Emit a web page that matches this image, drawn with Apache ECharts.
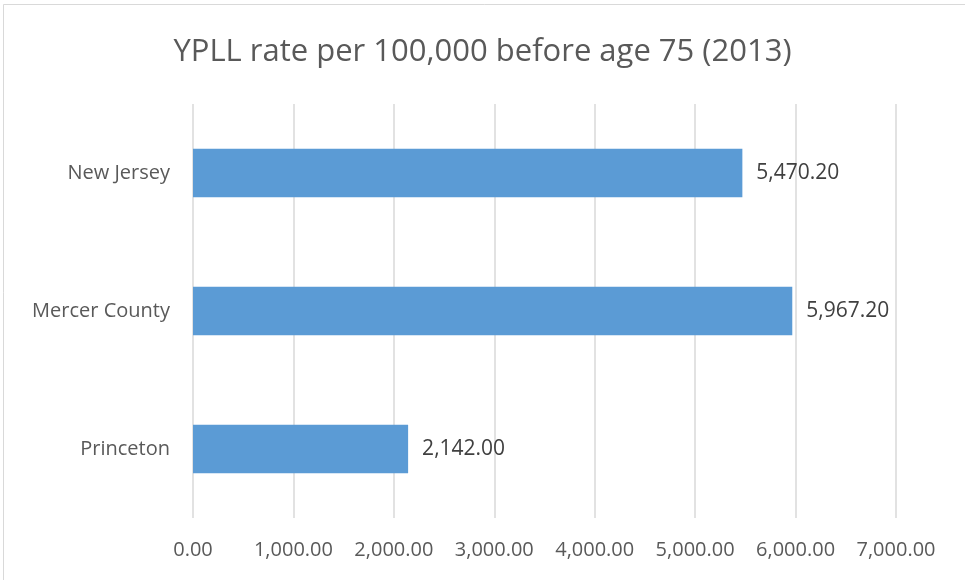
<!DOCTYPE html>
<html>
<head>
<meta charset="utf-8">
<script src="https://cdn.jsdelivr.net/npm/echarts@6/dist/echarts.min.js"></script>
<style>
  html, body { margin: 0; padding: 0; background: #fff; }
  #chart { width: 965px; height: 580px; }
</style>
</head>
<body>
<div id="chart"></div>
<script>
// data
var categories = ["Princeton", "Mercer County", "New Jersey"];
var values = [2142.0, 5967.2, 5470.2];
var xTicks = [0, 1000, 2000, 3000, 4000, 5000, 6000, 7000];

function fmt(v) {
  return Number(v).toLocaleString("en-US", { minimumFractionDigits: 2, maximumFractionDigits: 2 });
}

var textColor = "#595959";
var font = "Open Sans";

var chart = echarts.init(document.getElementById("chart"));
var options = {
  backgroundColor: "#fff",
  animation: false,
  title: {
    text: "YPLL rate per 100,000 before age 75 (2013)",
    left: "center",
    top: 32,
    textStyle: {
      fontFamily: font,
      fontWeight: "normal",
      fontSize: 31,
      color: textColor
    }
  },
  graphic: [
    {
      type: "rect",
      shape: { x: 3.5, y: 4.5, width: 1200, height: 1200 },
      style: { fill: "none", stroke: "#d9d9d9", lineWidth: 1 },
      silent: true
    }
  ],
  grid: {
    left: 193,
    right: 69,
    top: 104,
    bottom: 62
  },
  xAxis: {
    type: "value",
    min: xTicks[0],
    max: xTicks[xTicks.length - 1],
    interval: 1000,
    axisLine: { show: false },
    axisTick: { show: false },
    axisLabel: {
      margin: 22,
      fontFamily: font,
      fontSize: 20,
      color: textColor,
      formatter: fmt
    },
    splitLine: {
      lineStyle: { color: "#d9d9d9", width: 1.5 }
    }
  },
  yAxis: {
    type: "category",
    data: categories,
    axisLine: { show: false },
    axisTick: { show: false },
    axisLabel: {
      margin: 23,
      fontFamily: font,
      fontSize: 20,
      color: textColor
    }
  },
  series: [
    {
      type: "bar",
      data: values,
      barWidth: "35%",
      itemStyle: { color: "#5b9bd5" },
      label: {
        show: true,
        position: "right",
        distance: 14,
        fontFamily: font,
        fontSize: 21,
        color: "#404040",
        formatter: function (p) { return fmt(p.value); }
      }
    }
  ]
};
chart.setOption(options);
</script>
</body>
</html>
